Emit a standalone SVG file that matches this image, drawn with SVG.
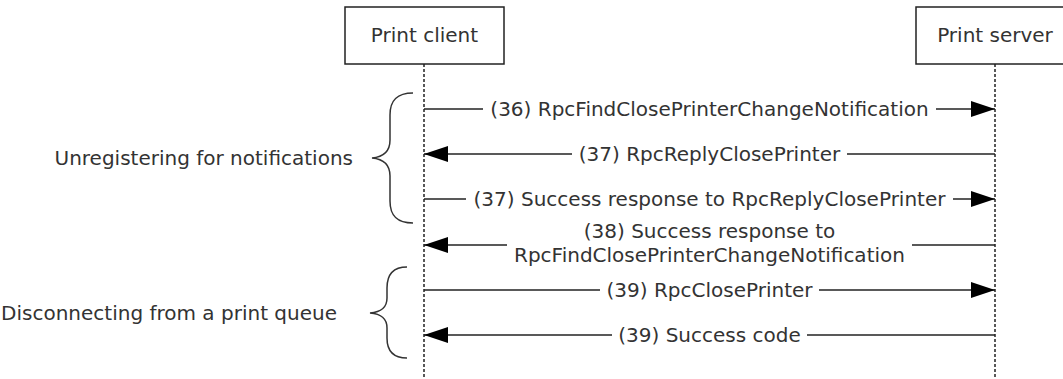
<svg xmlns="http://www.w3.org/2000/svg" width="1063" height="379" viewBox="0 0 1063 379">
<defs>
<style>
.box{fill:#fff;stroke:#222;stroke-width:1.5}
.life{stroke:#222;stroke-width:1.5;stroke-dasharray:3 2;fill:none}
.msg{stroke:#222;stroke-width:1.5;fill:none}
.brace{stroke:#333;stroke-width:1.5;fill:none}
text{font-family:"DejaVu Sans",Verdana,sans-serif;font-size:20px;fill:#333}
.c{text-anchor:middle}
.e{text-anchor:end}
</style>
<marker id="ah" markerUnits="userSpaceOnUse" markerWidth="24" markerHeight="16" viewBox="0 0 24 16" refX="24" refY="8" orient="auto">
<path d="M0,0 L24,8 L0,16 z" fill="#000"/>
</marker>
</defs>
<g id="print-client">
<rect class="box" x="345" y="7" width="159" height="57"/>
<text class="c" x="424.5" y="42">Print client</text>
<line class="life" x1="424" y1="64" x2="424" y2="379"/>
</g>
<g id="print-server">
<rect class="box" x="916" y="7" width="159" height="57"/>
<text class="c" x="995" y="42">Print server</text>
<line class="life" x1="995" y1="64" x2="995" y2="379"/>
</g>
<g id="group-unregistering">
<path class="brace" d="M413,93 C397,93 390,100 390,115 L390,140 C390,152 383,157 372,158 C383,159 390,164 390,176 L390,201 C390,216 397,223 413,223"/>
<text class="e" x="353" y="165">Unregistering for notifications</text>
</g>
<g id="group-disconnecting">
<path class="brace" d="M407,267 C393,267 387,274 387,288 L387,298 C387,308 381,312 370,313 C381,314 387,318 387,328 L387,338 C387,351 393,358 407,358"/>
<text class="e" x="337" y="320">Disconnecting from a print queue</text>
</g>
<g id="connectors">
<line class="msg" x1="424" y1="109" x2="483" y2="109"/>
<line class="msg" x1="936" y1="109" x2="995" y2="109" marker-end="url(#ah)"/>
<text class="c" x="709.5" y="116">(36) RpcFindClosePrinterChangeNotification</text>

<line class="msg" x1="572" y1="154" x2="424" y2="154" marker-end="url(#ah)"/>
<line class="msg" x1="847" y1="154" x2="995" y2="154"/>
<text class="c" x="709.5" y="161">(37) RpcReplyClosePrinter</text>

<line class="msg" x1="424" y1="199" x2="466" y2="199"/>
<line class="msg" x1="953" y1="199" x2="995" y2="199" marker-end="url(#ah)"/>
<text class="c" x="709.5" y="206">(37) Success response to RpcReplyClosePrinter</text>

<line class="msg" x1="507" y1="245" x2="424" y2="245" marker-end="url(#ah)"/>
<line class="msg" x1="912" y1="245" x2="995" y2="245"/>
<text class="c" x="709.5" y="238">(38) Success response to</text>
<text class="c" x="709.5" y="262">RpcFindClosePrinterChangeNotification</text>

<line class="msg" x1="424" y1="290" x2="600" y2="290"/>
<line class="msg" x1="819" y1="290" x2="995" y2="290" marker-end="url(#ah)"/>
<text class="c" x="709.5" y="297">(39) RpcClosePrinter</text>

<line class="msg" x1="612" y1="335" x2="424" y2="335" marker-end="url(#ah)"/>
<line class="msg" x1="807" y1="335" x2="995" y2="335"/>
<text class="c" x="709.5" y="342">(39) Success code</text>
</g>
</svg>
